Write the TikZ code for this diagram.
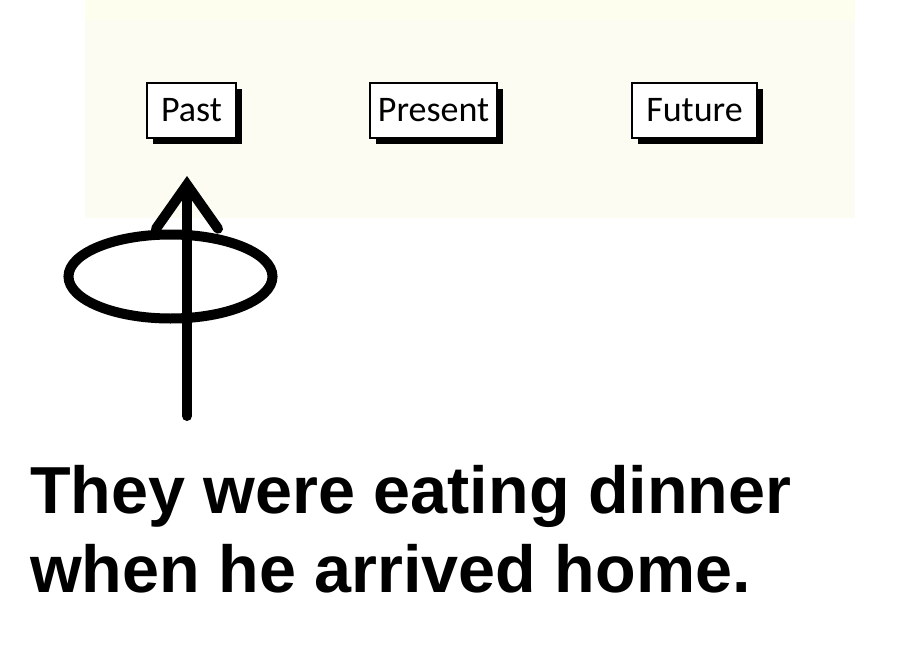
\documentclass[tikz,border=0pt]{standalone}
\usepackage{fontspec}
\setmainfont{Liberation Sans}
\newfontfamily\boxfont{Carlito}
\usetikzlibrary{arrows.meta,shadows}
\definecolor{paper}{RGB}{252,252,243}
\definecolor{paperband}{RGB}{254,254,238}
\tikzset{
  timebox/.style={draw,line width=2.4pt,fill=white,minimum height=55pt,
    inner sep=0pt,font=\boxfont\fontsize{36}{40}\selectfont,
    drop shadow={shadow xshift=6pt,shadow yshift=-6pt,fill=black,opacity=1}},
  marker/.style={line width=10pt,line cap=round},
  caption/.style={anchor=base west,inner sep=0pt,
    font=\bfseries\fontsize{66.5}{80}\selectfont}
}
\begin{document}
\begin{tikzpicture}[x=1pt,y=-1pt]
    \useasboundingbox (0,0) rectangle (906,656);
    \fill[white] (0,0) rectangle (906,656);
    \fill[paper] (85,0) rectangle (855,218);
    \fill[paperband] (85,0) rectangle (855,20);
    \node[timebox,minimum width=89pt] (past) at (191.5,110.5) {Past};
    \node[timebox,minimum width=127pt] (present) at (433.5,110.5) {Present};
    \node[timebox,minimum width=125pt] (future) at (694.5,110.5) {Future};
    \coordinate (tail) at (187,416);
    \coordinate (tip) at (187,176);
    \coordinate (ring) at (170.5,276.5);
    \draw[marker] (ring) ellipse [x radius=102, y radius=42];
    \draw[marker,-{Straight Barb[length=44pt,width=62pt,line cap=round]}] (tail) -- (tip);
    \node[caption] (line1) at (30,513) {They were eating dinner};
    \node[caption] (line2) at (30,592) {when he arrived home.};
\end{tikzpicture}
\end{document}
